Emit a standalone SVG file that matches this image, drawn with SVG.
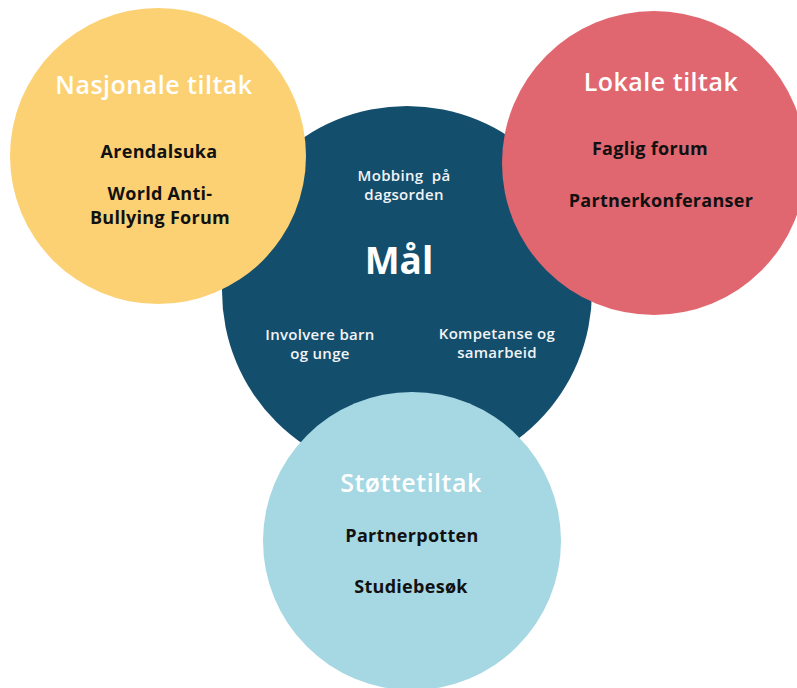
<svg xmlns="http://www.w3.org/2000/svg" width="797" height="688" viewBox="0 0 797 688">
<style>
text{font-family:"Open Sans","Lato","Liberation Sans",sans-serif;text-anchor:middle}
.title{fill:#ffffff;font-weight:600;font-size:25px;letter-spacing:0.5px}
.item{fill:#111111;font-weight:700;font-size:18px;letter-spacing:0.3px}
.goal{fill:#f2f4f6;font-weight:600;font-size:15px;letter-spacing:0.3px}
.big{fill:#ffffff;font-weight:700;font-size:37px}
</style>
<rect width="797" height="688" fill="#ffffff"/>
<g id="maal">
<circle cx="407" cy="291" r="185" fill="#134e6d"/>
<text class="goal" xml:space="preserve"><tspan x="404" y="180.5">Mobbing  på</tspan><tspan x="404" y="199.5">dagsorden</tspan></text>
<text class="big" x="399" y="274">Mål</text>
<text class="goal"><tspan x="320" y="339.5">Involvere barn</tspan><tspan x="320" y="358.5">og unge</tspan></text>
<text class="goal"><tspan x="497" y="339">Kompetanse og</tspan><tspan x="497" y="358">samarbeid</tspan></text>
</g>
<g id="nasjonale">
<circle cx="158" cy="156" r="148" fill="#fcd174"/>
<text class="title" x="154" y="94">Nasjonale tiltak</text>
<text class="item" x="159" y="158">Arendalsuka</text>
<text class="item"><tspan x="160" y="200">World Anti-</tspan><tspan x="160" y="224">Bullying Forum</tspan></text>
</g>
<g id="lokale">
<circle cx="654" cy="163" r="152" fill="#e06770"/>
<text class="title" x="661" y="91">Lokale tiltak</text>
<text class="item" x="650" y="155">Faglig forum</text>
<text class="item" x="661" y="207">Partnerkonferanser</text>
</g>
<g id="stotte">
<circle cx="412" cy="541" r="149" fill="#a5d8e3"/>
<text class="title" x="411" y="492">Støttetiltak</text>
<text class="item" x="412" y="542">Partnerpotten</text>
<text class="item" x="411" y="593">Studiebesøk</text>
</g>
</svg>
